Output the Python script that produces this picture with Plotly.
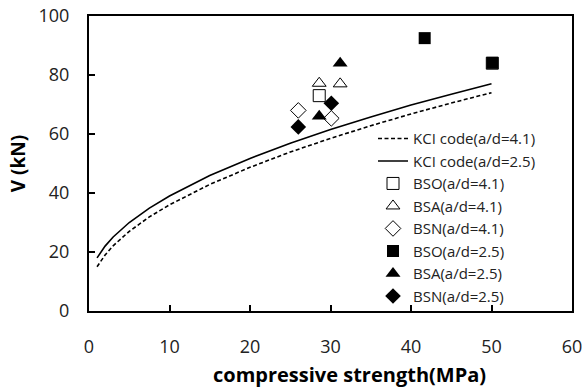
import plotly.graph_objects as go

# Code prediction curves (compressive strength in MPa vs shear strength in kN)
fck_curve = [1, 2, 3, 5, 7.5, 10, 15, 20, 25, 30, 35, 40, 45, 50]
kci_41 = [15.0, 19.0, 22.1, 27.0, 31.9, 36.0, 42.9, 48.7, 53.9, 58.5, 62.8, 66.8, 70.5, 74.0]
kci_25 = [18.0, 22.0, 25.1, 30.0, 34.9, 39.0, 45.9, 51.7, 56.9, 61.5, 65.8, 69.8, 73.5, 77.0]

# Test results
bso41_x, bso41_y = [28.6, 50.1], [73.0, 84.0]
bsa41_x, bsa41_y = [28.6, 31.2], [77.2, 77.0]
bsn41_x, bsn41_y = [26.0, 30.1], [68.0, 65.3]
bso25_x, bso25_y = [41.7, 50.1], [92.5, 84.1]
bsa25_x, bsa25_y = [31.2, 28.6], [84.0, 66.0]
bsn25_x, bsn25_y = [30.1, 26.0], [70.4, 62.4]

FONT = "Open Sans"
fig = go.Figure()

fig.add_trace(go.Scatter(x=fck_curve, y=kci_41, mode="lines", name="KCI code(a/d=4.1)",
                         line=dict(color="black", width=1.6, dash="4px,2.5px")))
fig.add_trace(go.Scatter(x=fck_curve, y=kci_25, mode="lines", name="KCI code(a/d=2.5)",
                         line=dict(color="black", width=1.6)))

open_marker = dict(color="white", line=dict(color="black", width=1))
fig.add_trace(go.Scatter(x=bso41_x, y=bso41_y, mode="markers", name="BSO(a/d=4.1)",
                         marker=dict(symbol="square", size=12, **open_marker)))
fig.add_trace(go.Scatter(x=bsa41_x, y=bsa41_y, mode="markers", name="BSA(a/d=4.1)",
                         marker=dict(symbol="triangle-up", size=12, **open_marker)))
fig.add_trace(go.Scatter(x=bsn41_x, y=bsn41_y, mode="markers", name="BSN(a/d=4.1)",
                         marker=dict(symbol="diamond", size=12, **open_marker)))
fig.add_trace(go.Scatter(x=bso25_x, y=bso25_y, mode="markers", name="BSO(a/d=2.5)",
                         marker=dict(symbol="square", size=12, color="black")))
fig.add_trace(go.Scatter(x=bsa25_x, y=bsa25_y, mode="markers", name="BSA(a/d=2.5)",
                         marker=dict(symbol="triangle-up", size=13, color="black")))
fig.add_trace(go.Scatter(x=bsn25_x, y=bsn25_y, mode="markers", name="BSN(a/d=2.5)",
                         marker=dict(symbol="diamond", size=12, color="black")))

axis_common = dict(showline=True, linecolor="black", linewidth=2, mirror=True,
                   ticks="inside", ticklen=6, tickwidth=1.5, tickcolor="black",
                   showgrid=False, zeroline=False, automargin=False,
                   tickfont=dict(family=FONT, size=18, color="#222"))

fig.update_layout(
    width=586, height=389,
    margin=dict(l=89, r=14, t=16, b=78),
    paper_bgcolor="white", plot_bgcolor="white",
    font=dict(family=FONT, color="black"),
    xaxis=dict(range=[0, 60], tickvals=[0, 10, 20, 30, 40, 50, 60],
               ticklabelstandoff=18, **axis_common),
    yaxis=dict(range=[0, 100], tickvals=[0, 20, 40, 60, 80, 100],
               ticklabelstandoff=14, **axis_common,
               title=dict(text="<b>V (kN)</b>", font=dict(family=FONT, size=19), standoff=8)),
    legend=dict(x=0.588, y=0.64, xanchor="left", yanchor="top",
                bgcolor="rgba(0,0,0,0)", itemwidth=30, tracegroupgap=0,
                font=dict(family=FONT, size=15, color="#222")),
    annotations=[dict(text="<b>compressive strength(MPa)</b>", xref="paper", yref="paper",
                      x=0.54, y=0, yshift=-63, xanchor="center", yanchor="middle",
                      showarrow=False, font=dict(family=FONT, size=20, color="black"))],
)

fig.write_html("out.html")
